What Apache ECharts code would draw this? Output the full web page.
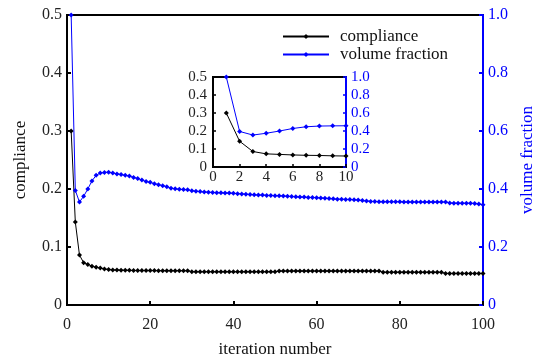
<!DOCTYPE html>
<html>
<head>
<meta charset="utf-8">
<script src="https://cdn.jsdelivr.net/npm/echarts@6/dist/echarts.min.js"></script>
<style>html,body{margin:0;padding:0;background:#fff}#c{width:544px;height:363px}</style>
</head>
<body>
<div id="c"></div>
<script>
const iterations = [];
for (let i = 1; i <= 100; i++) iterations.push(i);

const compliance = [
  0.300, 0.143, 0.086, 0.073, 0.070, 0.067, 0.065, 0.064, 0.062, 0.061,
  0.0605, 0.0602, 0.0600, 0.0598, 0.0597, 0.0595, 0.0594, 0.0593, 0.0593, 0.0593,
  0.0593, 0.0592, 0.0592, 0.0592, 0.0592, 0.0592, 0.0592, 0.0591, 0.0591, 0.0573,
  0.0573, 0.0573, 0.0573, 0.0573, 0.0573, 0.0573, 0.0573, 0.0573, 0.0573, 0.0573,
  0.0573, 0.0573, 0.0573, 0.0573, 0.0573, 0.0573, 0.0573, 0.0573, 0.0573, 0.0573,
  0.0585, 0.0585, 0.0585, 0.0585, 0.0585, 0.0585, 0.0585, 0.0585, 0.0585, 0.0585,
  0.0585, 0.0585, 0.0585, 0.0585, 0.0585, 0.0585, 0.0585, 0.0585, 0.0585, 0.0585,
  0.0585, 0.0585, 0.0585, 0.0585, 0.0585, 0.0565, 0.0565, 0.0565, 0.0565, 0.0565,
  0.0565, 0.0565, 0.0565, 0.0565, 0.0565, 0.0565, 0.0565, 0.0565, 0.0565, 0.0565,
  0.0545, 0.0545, 0.0545, 0.0545, 0.0545, 0.0545, 0.0545, 0.0545, 0.0545, 0.0545
];

const volumeFraction = [
  1.000, 0.395, 0.355, 0.375, 0.400, 0.428, 0.447, 0.455, 0.457, 0.458,
  0.455, 0.452, 0.450, 0.447, 0.445, 0.440, 0.436, 0.431, 0.426, 0.423,
  0.418, 0.415, 0.411, 0.408, 0.403, 0.401, 0.399, 0.398, 0.397, 0.394,
  0.392, 0.391, 0.390, 0.389, 0.388, 0.387, 0.387, 0.386, 0.386, 0.385,
  0.384, 0.383, 0.382, 0.381, 0.380, 0.379, 0.379, 0.378, 0.378, 0.377,
  0.377, 0.376, 0.375, 0.374, 0.373, 0.372, 0.372, 0.371, 0.371, 0.370,
  0.369, 0.368, 0.367, 0.366, 0.365, 0.365, 0.364, 0.364, 0.363, 0.362,
  0.360, 0.359, 0.357, 0.357, 0.356, 0.356, 0.356, 0.356, 0.356, 0.356,
  0.355, 0.355, 0.355, 0.355, 0.355, 0.355, 0.355, 0.355, 0.355, 0.355,
  0.355, 0.352, 0.351, 0.351, 0.351, 0.351, 0.351, 0.350, 0.348, 0.346
];

const insetCount = 10;
const seriesNames = ['compliance', 'volume fraction'];
const xAxisName = 'iteration number';

const FONT = '"Liberation Serif", "Times New Roman", serif';
const BLUE = '#0000ff';
const BLACK = '#000000';

function pairs(xs, ys, n) {
  const out = [];
  for (let i = 0; i < n; i++) out.push([xs[i], ys[i]]);
  return out;
}
function fmt(v) { return v === 0 ? '0' : v.toFixed(1); }

const chart = echarts.init(document.getElementById('c'), null, {renderer: 'canvas'});
chart.setOption({
  animation: false,
  backgroundColor: '#fff',
  textStyle: {fontFamily: FONT},
  grid: [
    {left: 67, top: 15, width: 416, height: 290, show: true, borderColor: BLACK, borderWidth: 2, backgroundColor: 'transparent'},
    {left: 213, top: 77, width: 133, height: 90, show: true, borderColor: BLACK, borderWidth: 2, backgroundColor: '#fff', z: 5}
  ],
  legend: {
    left: 277, top: 23, orient: 'vertical', itemGap: 1, itemWidth: 46, itemHeight: 6,
    data: seriesNames,
    textStyle: {fontFamily: FONT, fontSize: 17, color: '#111', padding: [0, 0, 0, 6], lineHeight: 17}
  },
  xAxis: [
    {
      type: 'value', gridIndex: 0, min: 0, max: 100, interval: 20,
      name: xAxisName, nameLocation: 'middle', nameGap: 36,
      nameTextStyle: {fontFamily: FONT, fontSize: 17, color: '#111'},
      axisLine: {show: true, lineStyle: {color: BLACK, width: 2}},
      axisTick: {show: true, inside: true, length: 4, lineStyle: {color: BLACK, width: 2}},
      axisLabel: {fontFamily: FONT, fontSize: 16, color: '#222', margin: 12},
      splitLine: {show: false}
    },
    {
      type: 'value', gridIndex: 1, min: 0, max: 10, interval: 2,
      axisLine: {show: true, lineStyle: {color: BLACK, width: 2}},
      axisTick: {show: true, inside: true, length: 3, lineStyle: {color: BLACK, width: 1.5}},
      axisLabel: {fontFamily: FONT, fontSize: 15, color: '#222', margin: 3},
      splitLine: {show: false}, z: 6
    }
  ],
  yAxis: [
    {
      type: 'value', gridIndex: 0, position: 'left', min: 0, max: 0.5, interval: 0.1,
      name: seriesNames[0], nameLocation: 'middle', nameGap: 38, nameRotate: 90,
      nameTextStyle: {fontFamily: FONT, fontSize: 17, color: '#111'},
      axisLine: {show: true, lineStyle: {color: BLACK, width: 2}},
      axisTick: {show: true, inside: true, length: 4, lineStyle: {color: BLACK, width: 2}},
      axisLabel: {fontFamily: FONT, fontSize: 16, color: '#222', margin: 5, formatter: fmt},
      splitLine: {show: false}
    },
    {
      type: 'value', gridIndex: 0, position: 'right', min: 0, max: 1, interval: 0.2,
      name: seriesNames[1], nameLocation: 'middle', nameGap: 35, nameRotate: 90,
      nameTextStyle: {fontFamily: FONT, fontSize: 17, color: BLUE},
      axisLine: {show: true, lineStyle: {color: BLUE, width: 2}},
      axisTick: {show: true, inside: true, length: 4, lineStyle: {color: BLUE, width: 2}},
      axisLabel: {fontFamily: FONT, fontSize: 16, color: BLUE, margin: 5, formatter: fmt},
      splitLine: {show: false}
    },
    {
      type: 'value', gridIndex: 1, position: 'left', min: 0, max: 0.5, interval: 0.1,
      axisLine: {show: true, lineStyle: {color: BLACK, width: 2}},
      axisTick: {show: true, inside: true, length: 3, lineStyle: {color: BLACK, width: 1.5}},
      axisLabel: {fontFamily: FONT, fontSize: 15, color: '#222', margin: 6, formatter: fmt},
      splitLine: {show: false}, z: 6
    },
    {
      type: 'value', gridIndex: 1, position: 'right', min: 0, max: 1, interval: 0.2,
      axisLine: {show: true, lineStyle: {color: BLUE, width: 2}},
      axisTick: {show: true, inside: true, length: 3, lineStyle: {color: BLUE, width: 1.5}},
      axisLabel: {fontFamily: FONT, fontSize: 15, color: BLUE, margin: 5, formatter: fmt},
      splitLine: {show: false}, z: 6
    }
  ],
  series: [
    {
      name: seriesNames[0], type: 'line', xAxisIndex: 0, yAxisIndex: 0,
      data: pairs(iterations, compliance, iterations.length),
      symbol: 'diamond', symbolSize: 5, showSymbol: true,
      lineStyle: {color: BLACK, width: 1}, itemStyle: {color: BLACK}
    },
    {
      name: seriesNames[1], type: 'line', xAxisIndex: 0, yAxisIndex: 1,
      data: pairs(iterations, volumeFraction, iterations.length),
      symbol: 'diamond', symbolSize: 5, showSymbol: true,
      lineStyle: {color: BLUE, width: 1}, itemStyle: {color: BLUE}
    },
    {
      name: seriesNames[0], type: 'line', xAxisIndex: 1, yAxisIndex: 2, z: 7,
      data: pairs(iterations, compliance, insetCount),
      symbol: 'diamond', symbolSize: 5, showSymbol: true,
      lineStyle: {color: BLACK, width: 1}, itemStyle: {color: BLACK}
    },
    {
      name: seriesNames[1], type: 'line', xAxisIndex: 1, yAxisIndex: 3, z: 7,
      data: pairs(iterations, volumeFraction, insetCount),
      symbol: 'diamond', symbolSize: 5, showSymbol: true,
      lineStyle: {color: BLUE, width: 1}, itemStyle: {color: BLUE}
    }
  ]
});
</script>
</body>
</html>
